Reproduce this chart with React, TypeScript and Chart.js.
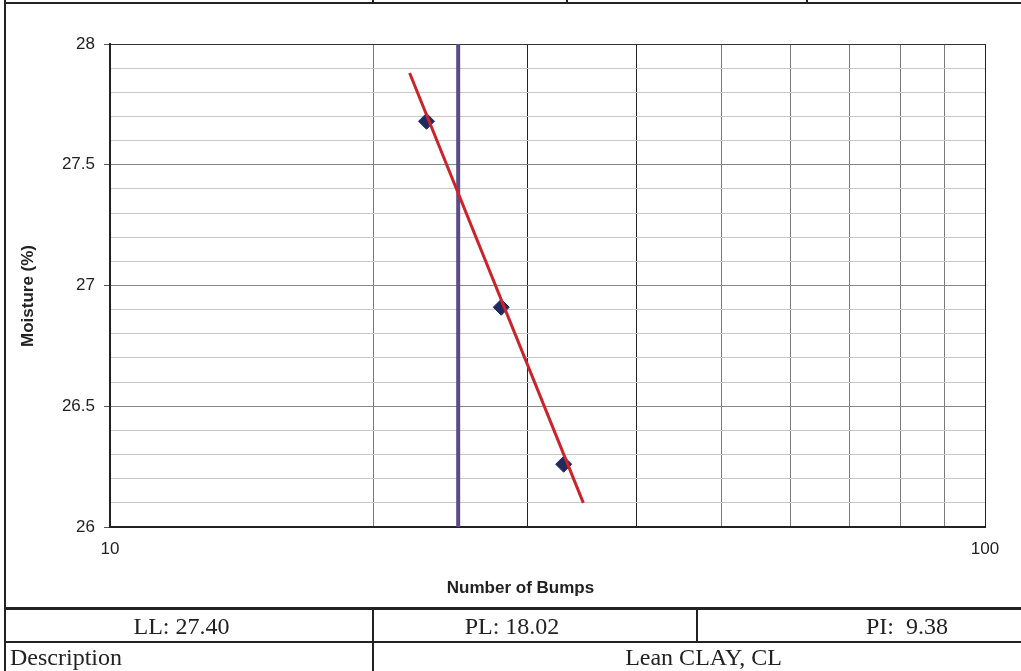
import React, { useEffect, useRef } from "react";
import { Chart, registerables } from "chart.js";

Chart.register(...registerables);

// Liquid limit test results: number of bumps vs. moisture content
const BUMPS = [23, 28, 33];
const MOISTURE = [27.68, 26.91, 26.26];

// Flow line (best fit on the semi-log plot)
const TREND_BUMPS = [22, 34.75];
const TREND_MOISTURE = [27.88, 26.1];

// 25-blow reference line
const LL_BUMPS = [25, 25];
const LL_MOISTURE = [26, 28];

// Axis ticks
const X_TICKS = [10, 20, 30, 40, 50, 60, 70, 80, 90, 100];
const X_LABELED = [10, 100];
const X_DARK = [30, 40, 100];
const Y_MIN = 26;
const Y_MAX = 28;
const Y_STEP = 0.1;

// Summary table
const LIMIT_TEXT = ["LL: 27.40", "PL: 18.02", "PI:  9.38"];
const LIMIT_CENTERS = [181.5, 512, 907];
const DESC_LABEL = "Description";
const DESC_TEXT = "Lean CLAY, CL";

const X_TITLE = "Number of Bumps";
const Y_TITLE = "Moisture (%)";

const SANS = '"Liberation Sans", Arial, sans-serif';
const SERIF = '"Liberation Serif", "Times New Roman", serif';

const isHalf = (v: number) => Math.abs(v * 2 - Math.round(v * 2)) < 1e-6;

function LimitChart() {
  const ref = useRef<HTMLCanvasElement | null>(null);

  useEffect(() => {
    if (!ref.current) return;
    const chart = new Chart(ref.current, {
      type: "scatter",
      data: {
        datasets: [
          {
            label: "Flow line",
            data: TREND_BUMPS.map((x, i) => ({ x, y: TREND_MOISTURE[i] })),
            showLine: true,
            borderColor: "#CC2229",
            borderWidth: 3,
            pointRadius: 0,
            order: 0,
          },
          {
            label: "Tests",
            data: BUMPS.map((x, i) => ({ x, y: MOISTURE[i] })),
            pointStyle: "rectRot",
            pointRadius: 8,
            backgroundColor: "#1F2A5E",
            borderColor: "#1F2A5E",
            borderWidth: 1,
            order: 1,
          },
          {
            label: "25 bumps",
            data: LL_BUMPS.map((x, i) => ({ x, y: LL_MOISTURE[i] })),
            showLine: true,
            borderColor: "#5C4B84",
            borderWidth: 4,
            pointRadius: 0,
            order: 2,
          },
        ],
      },
      options: {
        animation: false,
        responsive: false,
        layout: { padding: { left: 0, top: 44, right: 36, bottom: 0 } },
        plugins: {
          legend: { display: false },
          tooltip: { enabled: false },
        },
        scales: {
          x: {
            type: "logarithmic",
            min: 10,
            max: 100,
            afterFit: (axis: any) => {
              axis.height = 81;
            },
            afterBuildTicks: (axis: any) => {
              axis.ticks = X_TICKS.map((v) => ({ value: v }));
            },
            border: { color: "#222", width: 2 },
            grid: {
              drawTicks: false,
              lineWidth: 1,
              color: (ctx: any) =>
                X_DARK.includes(ctx.tick?.value) ? "#222" : "#7a7a7a",
            },
            ticks: {
              autoSkip: false,
              maxRotation: 0,
              padding: 12,
              color: "#222",
              font: { family: SANS, size: 17 },
              callback: (v: any) => (X_LABELED.includes(Number(v)) ? String(v) : ""),
            },
          },
          y: {
            type: "linear",
            min: Y_MIN,
            max: Y_MAX,
            afterFit: (axis: any) => {
              axis.width = 110;
            },
            border: { color: "#222", width: 2 },
            grid: {
              lineWidth: 1,
              tickLength: 6,
              color: (ctx: any) => {
                const v = ctx.tick?.value;
                if (v === undefined) return "#c8c8c8";
                if (Math.abs(v - Y_MAX) < 1e-6) return "#333";
                return isHalf(v) ? "#868686" : "#c8c8c8";
              },
              tickColor: (ctx: any) =>
                ctx.tick && isHalf(ctx.tick.value) ? "#555" : "rgba(0,0,0,0)",
            },
            ticks: {
              stepSize: Y_STEP,
              autoSkip: false,
              padding: 9,
              color: "#222",
              font: { family: SANS, size: 17 },
              callback: (v: any) => {
                const n = Number(v);
                return isHalf(n) ? String(Math.round(n * 10) / 10) : "";
              },
            },
          },
        },
      },
    });
    return () => chart.destroy();
  }, []);

  return (
    <canvas
      ref={ref}
      width={1021}
      height={608}
      style={{ position: "absolute", left: 0, top: 0, width: 1021, height: 608 }}
    />
  );
}

const line = (left: number, top: number, width: number, height: number) => (
  <div
    style={{
      position: "absolute",
      left,
      top,
      width,
      height,
      background: "#222",
    }}
  />
);

export default function App() {
  const cell: React.CSSProperties = {
    position: "absolute",
    fontFamily: SERIF,
    fontSize: 24,
    lineHeight: "34px",
    height: 34,
    color: "#222",
    whiteSpace: "pre",
  };
  return (
    <div
      style={{
        position: "absolute",
        left: 0,
        top: 0,
        width: 1021,
        height: 671,
        overflow: "hidden",
        background: "#fff",
      }}
    >
      <LimitChart />

      {/* axis titles */}
      <div
        style={{
          position: "absolute",
          left: 520.5 - 150,
          top: 578,
          width: 300,
          height: 20,
          lineHeight: "20px",
          textAlign: "center",
          fontFamily: SANS,
          fontWeight: "bold",
          fontSize: 17,
          color: "#222",
        }}
      >
        {X_TITLE}
      </div>
      <div
        style={{
          position: "absolute",
          left: 28 - 100,
          top: 295.5 - 10,
          width: 200,
          height: 20,
          lineHeight: "20px",
          textAlign: "center",
          fontFamily: SANS,
          fontWeight: "bold",
          fontSize: 17,
          color: "#222",
          transform: "rotate(-90deg)",
          whiteSpace: "nowrap",
        }}
      >
        {Y_TITLE}
      </div>

      {/* frame and table rules */}
      {line(4, 2, 1017, 2)}
      {line(4, 0, 2, 671)}
      {line(372, 0, 2, 3)}
      {line(566, 0, 2, 3)}
      {line(806, 0, 2, 3)}
      {line(4, 607, 1017, 3)}
      {line(4, 641, 1017, 2)}
      {line(372, 608, 2, 63)}
      {line(696, 608, 2, 34)}

      {/* limits row */}
      {LIMIT_TEXT.map((t, i) => (
        <div
          key={t}
          style={{
            ...cell,
            left: LIMIT_CENTERS[i] - 150,
            width: 300,
            top: 609,
            textAlign: "center",
          }}
        >
          {t}
        </div>
      ))}

      {/* description row */}
      <div style={{ ...cell, left: 10, top: 640 }}>{DESC_LABEL}</div>
      <div
        style={{
          ...cell,
          left: 703.5 - 200,
          width: 400,
          top: 640,
          textAlign: "center",
        }}
      >
        {DESC_TEXT}
      </div>
    </div>
  );
}
